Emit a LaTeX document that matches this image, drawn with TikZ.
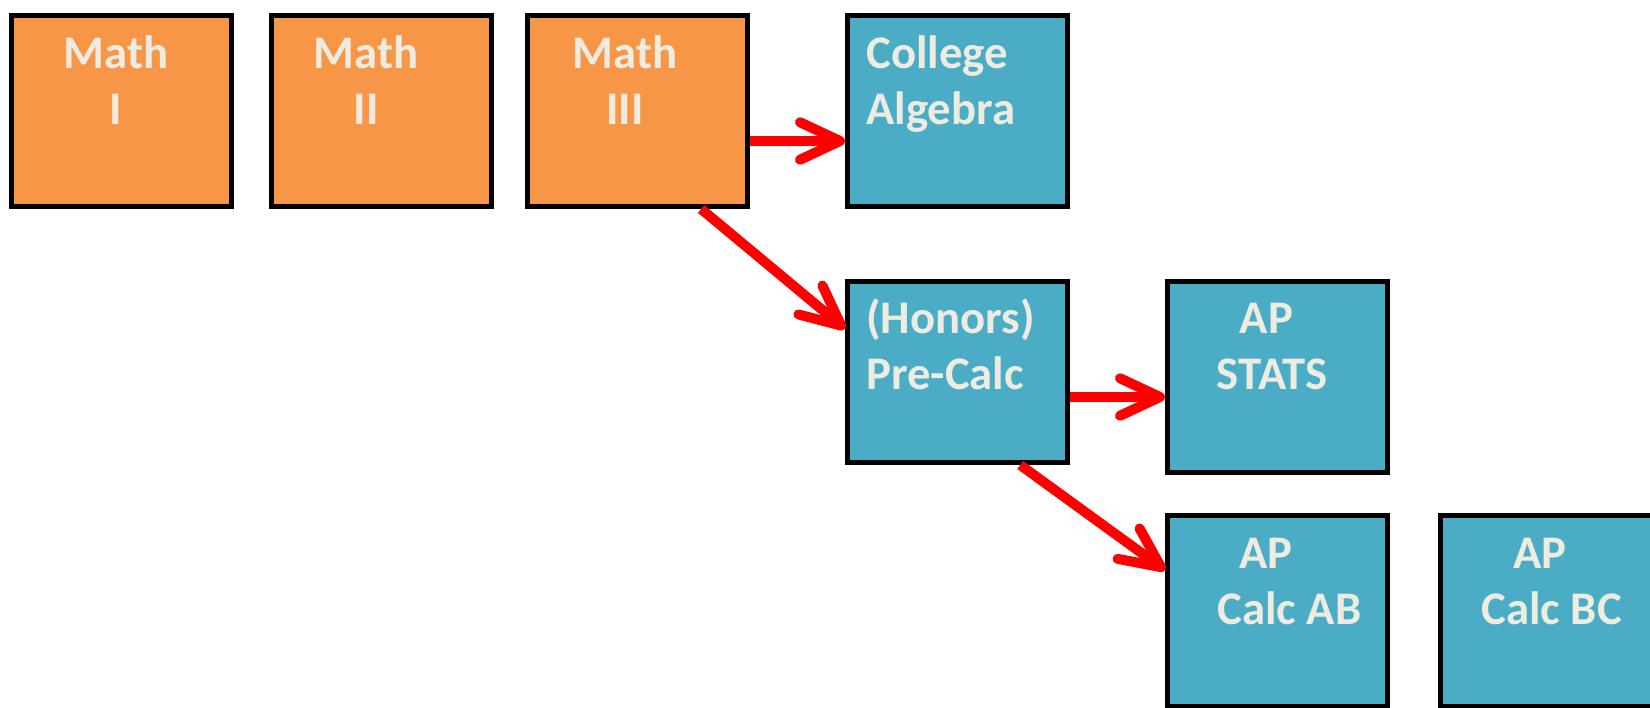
\documentclass[tikz,border=0pt]{standalone}
\usepackage{fontspec}
\setmainfont{Carlito}
\usepackage{tikz}
\usetikzlibrary{positioning, arrows.meta}
\definecolor{mathorange}{HTML}{F79646}
\definecolor{calcblue}{HTML}{4BACC6}
\definecolor{labelcream}{HTML}{EEECE1}
\tikzstyle{line} = [draw, red, line width=0.2cm, -{Straight Barb[length=0.8cm, width=0.75cm, round]}]
\tikzstyle{blockmath} = [rectangle, draw, line width=0.1cm, fill=mathorange,
    minimum width=4.4cm, minimum height=3.82cm]
\tikzstyle{blockcalc} = [rectangle, draw, line width=0.1cm, fill=calcblue,
    minimum width=4.4cm, minimum height=3.82cm]
\tikzstyle{coursetext} = [text=labelcream, font=\bfseries\fontsize{26.6}{31.6}\selectfont, inner sep=0pt]

\begin{document}
\begin{tikzpicture}
            \path[use as bounding box, clip] (0,0) rectangle (33,-14.14);

            \node[blockmath] (mathI) at (2.43,-2.22) {};
            \node[blockmath, right of=mathI, node distance=5.2cm] (mathII) {};
            \node[blockmath, right of=mathII, node distance=5.12cm] (mathIII) {};
            \node[blockcalc, right of=mathIII, node distance=6.4cm] (algebra) {};
            \node[blockcalc, below of=algebra, node distance=5.22cm, minimum height=3.62cm] (precalc) {};
            \node[blockcalc, right of=precalc, node distance=6.4cm, yshift=-0.09cm] (stats) {};
            \node[blockcalc, below of=stats, node distance=4.69cm] (calcab) {};
            \node[blockcalc, right of=calcab, node distance=5.46cm] (calcbc) {};

            % base = baseline of the second line
            \node[coursetext, align=center, anchor=base] at ([xshift=-0.11cm, yshift=-2.23cm]mathI.north) {Math\\I};
            \node[coursetext, align=center, anchor=base] at ([xshift=-0.31cm, yshift=-2.23cm]mathII.north) {Math\\II};
            \node[coursetext, align=center, anchor=base] at ([xshift=-0.25cm, yshift=-2.23cm]mathIII.north) {Math\\III};
            \node[coursetext, align=left, anchor=base west] at ([xshift=0.42cm, yshift=-2.22cm]algebra.north west) {College\\Algebra};
            \node[coursetext, align=left, anchor=base west] at ([xshift=0.42cm, yshift=-2.2cm]precalc.north west) {(Honors)\\Pre-Calc};
            \node[coursetext, align=left, anchor=base west] at ([xshift=1.03cm, yshift=-2.22cm]stats.north west) {\hspace*{0.46cm}AP\\STATS};
            \node[coursetext, align=left, anchor=base west] at ([xshift=1.04cm, yshift=-2.22cm]calcab.north west) {\hspace*{0.44cm}AP\\Calc AB};
            \node[coursetext, align=left, anchor=base west] at ([xshift=0.86cm, yshift=-2.22cm]calcbc.north west) {\hspace*{0.64cm}AP\\Calc BC};

            \path [line] ([yshift=-0.6cm]mathIII.east) -- ([yshift=-0.6cm]algebra.west);
            \path [line] (mathIII.-57) -- (precalc.159);
            \path [line] ([yshift=-0.5cm]precalc.east) -- ([yshift=-0.41cm]stats.west);
            \path [line] (precalc.-56) -- (calcab.160);
      \end{tikzpicture}
\end{document}
